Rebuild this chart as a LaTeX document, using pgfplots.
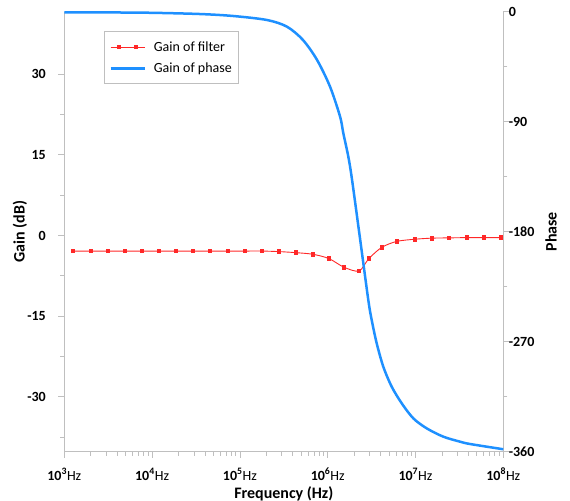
\documentclass[border=0pt]{standalone}
\usepackage{fontspec}
\setmainfont{Carlito}
\usepackage{pgfplots}
\pgfplotsset{compat=1.18}
\definecolor{axisgray}{RGB}{191,191,191}
\definecolor{phaseblue}{RGB}{30,144,255}
\definecolor{filtred}{RGB}{255,40,40}
\begin{document}
\begin{tikzpicture}
\useasboundingbox (-64.3bp,-49.3bp) rectangle (505.7bp,451.7bp);
\begin{axis}[
  scale only axis, width=439bp, height=440bp,
  xmode=log, xmin=1e3, xmax=1e8,
  axis line style={axisgray, line width=0.8bp},
  tick style={axisgray, line width=0.8bp},
  major tick length=6bp, minor tick length=4bp,
  tick align=outside,
  ticklabel style={font=\fontsize{14bp}{16bp}\selectfont\bfseries},
  label style={font=\fontsize{16bp}{18bp}\selectfont\bfseries},
  /pgf/number format/assume math mode=true,
  axis x line*=bottom, axis y line*=left,
  ymin=-40.2, ymax=41.6,
  ytick={-30,-15,0,15,30},
  minor ytick={-37.5,-22.5,-7.5,7.5,22.5},
  xtick={1e3,1e4,1e5,1e6,1e7,1e8},
  xticklabels={{10\textsuperscript{3}\mdseries Hz},{10\textsuperscript{4}\mdseries Hz},{10\textsuperscript{5}\mdseries Hz},{10\textsuperscript{6}\mdseries Hz},{10\textsuperscript{7}\mdseries Hz},{10\textsuperscript{8}\mdseries Hz}},
  xticklabel style={anchor=base, yshift=-22.3bp},
  yticklabel style={anchor=east, xshift=-9bp},
  xlabel={Frequency (Hz)}, ylabel={Gain (dB)},
  xlabel style={at={(axis description cs:0.5,-0.0961)}, anchor=center},
  ylabel style={at={(axis description cs:-0.101,0.5)}, anchor=center, rotate=0},
]
\addplot[filtred, line width=0.9bp, smooth, mark=square*, mark size=1.8bp, mark options={solid}] coordinates {
(1256,-2.9) (2014,-2.9) (3148,-2.9) (4909,-2.9) (7674,-2.9)
(11995,-2.9) (18710,-2.9) (29240,-2.9) (45600,-2.9) (73110,-2.9)
(114300,-2.9) (178200,-2.9) (278600,-3.0) (435500,-3.2) (679200,-3.5)
(1.033e6,-4.3) (1.531e6,-5.9) (2.270e6,-6.6) (2.944e6,-4.3) (4.140e6,-2.2)
(6.138e6,-1.1) (9.84e6,-0.7) (1.538e7,-0.5) (2.399e7,-0.45) (3.846e7,-0.4)
(6.012e7,-0.4) (9.397e7,-0.4)
};
\end{axis}
\begin{axis}[
  scale only axis, width=439bp, height=440bp,
  xmode=log, xmin=1e3, xmax=1e8,
  axis line style={axisgray, line width=0.8bp},
  tick style={axisgray, line width=0.8bp},
  major tick length=6bp, minor tick length=4bp,
  tick align=outside,
  ticklabel style={font=\fontsize{14bp}{16bp}\selectfont\bfseries},
  label style={font=\fontsize{16bp}{18bp}\selectfont\bfseries},
  /pgf/number format/assume math mode=true,
  axis x line=none, axis y line*=right,
  ymin=-360, ymax=0,
  ytick={-360,-270,-180,-90,0},
  minor ytick={-315,-225,-135,-45},
  yticklabel style={anchor=west, xshift=-4bp},
  ylabel={Phase},
  ylabel style={at={(axis description cs:1.1087,0.5)}, anchor=center, rotate=0},
  legend image code/.code={\draw[mark repeat=2,mark phase=2,#1] plot coordinates {(0cm,0cm) (0.3cm,0cm) (0.6cm,0cm) (0.9cm,0cm) (1.2cm,0cm)};},
  legend style={at={(axis description cs:0.0904,0.956)}, anchor=north west, draw=axisgray, line width=0.8bp,
    font=\fontsize{14bp}{16bp}\selectfont, row sep=6bp, inner xsep=5bp, inner ysep=8bp,
    /tikz/every odd column/.append style={column sep=6bp}},
  legend cell align=left,
]
\addlegendimage{filtred, line width=0.9bp, mark=square*, mark size=1.8bp, mark options={solid}}
\addlegendentry{Gain of filter}
\addplot[phaseblue, line width=2.5bp, smooth] coordinates {
(1e3,-0.5) (3162,-0.6) (1e4,-0.9) (35156,-1.9) (83370,-3.5)
(2.037e5,-6.8) (3.443e5,-12.3) (5.236e5,-23.2) (7.568e5,-39.5) (1.064e6,-61.4)
(1.384e6,-85.9) (1.507e6,-99.5) (1.799e6,-126.8) (2.291e6,-181.3) (2.900e6,-235.9)
(3.170e6,-252.2) (3.614e6,-271.3) (4.299e6,-290.5) (5.357e6,-306.8) (6.963e6,-320.4)
(9.439e6,-332.7) (1.342e7,-340.9) (2.073e7,-347.7) (3.213e7,-351.8) (4.176e7,-353.7)
(1e8,-358)
};
\addlegendentry{Gain of phase}
\end{axis}
\end{tikzpicture}
\end{document}
